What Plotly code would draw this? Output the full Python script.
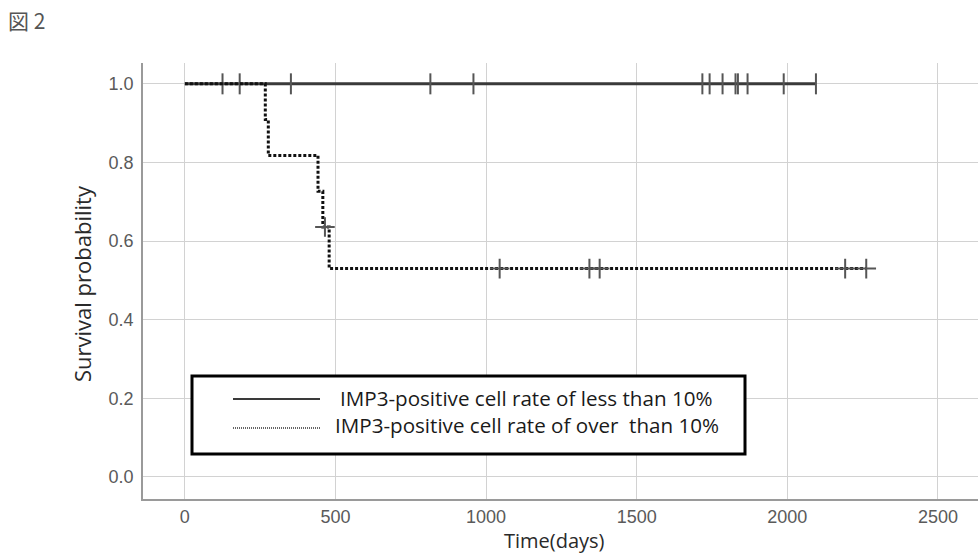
import plotly.graph_objects as go

# ---- data ----
# Group 1: IMP3-positive cell rate < 10% (no events)
low_times = [0, 2095]
low_surv = [1.0, 1.0]
low_censor_times = [125, 182, 352, 815, 958, 1718, 1742, 1785, 1828, 1836, 1868, 1988, 2095]
low_censor_surv = [1.0] * len(low_censor_times)

# Group 2: IMP3-positive cell rate > 10%
high_times = [0, 267, 277, 442, 458, 479, 2262]
high_surv = [1.0, 0.909, 0.818, 0.727, 0.636, 0.530, 0.530]
high_censor_times = [465, 1045, 1343, 1377, 2192, 2262]
high_censor_surv = [0.636, 0.530, 0.530, 0.530, 0.530, 0.530]

x_ticks = [0, 500, 1000, 1500, 2000, 2500]
y_ticks = [0.0, 0.2, 0.4, 0.6, 0.8, 1.0]
y_tick_text = ["0.0", "0.2", "0.4", "0.6", "0.8", "1.0"]

legend_labels = ["IMP3-positive cell rate of less than 10%",
                 "IMP3-positive cell rate of over\u00a0 than 10%"]

W, H = 978, 553
ML, MR, MT, MB = 143, 0, 63, 54
PW, PH = W - ML - MR, H - MT - MB

def px(x):
    return (x - ML) / PW

def py(y):
    return (H - MB - y) / PH

fig = go.Figure()

fig.add_trace(go.Scatter(
    x=low_times, y=low_surv, mode="lines", line_shape="hv",
    line=dict(color="#3a3a3a", width=3), name=legend_labels[0],
    showlegend=False, hoverinfo="skip"))
fig.add_trace(go.Scatter(
    x=low_censor_times, y=low_censor_surv, mode="markers",
    marker=dict(symbol="line-ns", size=15, line=dict(color="#555555", width=2)),
    showlegend=False, hoverinfo="skip"))

fig.add_trace(go.Scatter(
    x=high_times, y=high_surv, mode="lines", line_shape="hv",
    line=dict(color="#111111", width=3, dash="3px,2px"), name=legend_labels[1],
    showlegend=False, hoverinfo="skip"))
fig.add_trace(go.Scatter(
    x=high_censor_times, y=high_censor_surv, mode="markers",
    marker=dict(symbol="cross-thin", size=14, line=dict(color="#555555", width=2)),
    showlegend=False, hoverinfo="skip"))

tick_font = dict(family="Liberation Sans Narrow, Arial Narrow, Liberation Sans, Arial, sans-serif",
                 size=18, color="#5a5a5a")

fig.update_xaxes(
    range=[-139, 2633], tickvals=x_ticks, showgrid=True, gridcolor="#d2d2d2", gridwidth=1,
    zeroline=False, showline=True, linecolor="#9a9a9a", linewidth=1.5,
    ticks="", tickfont=tick_font, ticklabelstandoff=1)
fig.update_yaxes(
    range=[-0.056, 1.053], tickvals=y_ticks, ticktext=y_tick_text, showgrid=True,
    gridcolor="#d2d2d2", gridwidth=1, zeroline=False, showline=True,
    linecolor="#9a9a9a", linewidth=1.5, ticks="", tickfont=tick_font, ticklabelstandoff=4)

# Legend box (drawn in paper coordinates)
shapes = [
    dict(type="rect", xref="paper", yref="paper", x0=px(192), x1=px(745),
         y0=py(454), y1=py(376), line=dict(color="black", width=3), fillcolor="white"),
    dict(type="line", xref="paper", yref="paper", x0=px(233), x1=px(320),
         y0=py(399), y1=py(399), line=dict(color="#3a3a3a", width=2)),
    dict(type="line", xref="paper", yref="paper", x0=px(233), x1=px(320),
         y0=py(428), y1=py(428), line=dict(color="#333333", width=1.3, dash="1px,1px")),
]

leg_font = dict(family="Open Sans, Lato, sans-serif", size=20.6, color="#1a1a1a")
annotations = [
    dict(text=legend_labels[0], xref="paper", yref="paper", x=px(338), y=py(398),
         xanchor="left", yanchor="middle", showarrow=False, font=leg_font),
    dict(text=legend_labels[1], xref="paper", yref="paper", x=px(333), y=py(425),
         xanchor="left", yanchor="middle", showarrow=False, font=leg_font),
    dict(text="Survival probability", xref="paper", yref="paper", x=px(82), y=py(284),
         xanchor="center", yanchor="middle", textangle=-90, showarrow=False,
         font=dict(family="Open Sans, Lato, sans-serif", size=22, color="#2a2a2a")),
    dict(text="Time(days)", xref="paper", yref="paper", x=px(554), y=py(540),
         xanchor="center", yanchor="middle", showarrow=False,
         font=dict(family="Open Sans, Lato, sans-serif", size=20, color="#2a2a2a")),
    dict(text="図 2", xref="paper", yref="paper", x=px(6), y=py(20),
         xanchor="left", yanchor="middle", showarrow=False,
         font=dict(family="Noto Sans CJK JP, sans-serif", size=21, color="#555555")),
]

fig.update_layout(
    width=W, height=H, margin=dict(l=ML, r=MR, t=MT, b=MB),
    paper_bgcolor="white", plot_bgcolor="white",
    shapes=shapes, annotations=annotations, showlegend=False)

fig.write_html("out.html", config={"displayModeBar": False},
               post_script="document.body.style.margin='0px';document.body.style.overflow='hidden';")
